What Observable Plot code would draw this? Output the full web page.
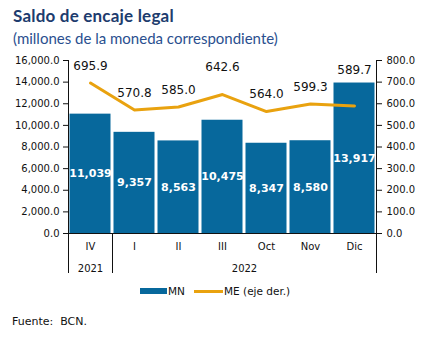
<!DOCTYPE html>
<html>
<head>
<meta charset="utf-8">
<script src="https://cdn.jsdelivr.net/npm/d3@7"></script>
<script src="https://cdn.jsdelivr.net/npm/@observablehq/plot@0.6"></script>
<style>
  body { margin: 0; background: #fff; font-family: "DejaVu Sans", sans-serif; }
  #wrap { position: relative; width: 427px; height: 350px; overflow: hidden; }
  #chart { position: absolute; left: 0; top: 0; }
  .title { position: absolute; left: 13px; top: 5px; font-family: Lato, sans-serif; font-weight: bold; font-size: 17px; color: #1d3c6e; letter-spacing: 0.2px; }
  .subtitle { position: absolute; left: 13px; top: 29px; font-family: Lato, sans-serif; font-size: 15px; color: #2a4f8f; }
  .legend { position: absolute; top: 284px; left: 0; width: 427px; height: 14px; font-size: 10.5px; color: #111; }
  .legend .sw { position: absolute; }
  .legend .lb { position: absolute; top: 0; line-height: 14px; }
  .src { position: absolute; left: 12px; top: 315px; font-size: 11px; color: #111; }
</style>
</head>
<body>
<div id="wrap">
  <div id="chart"></div>
  <div class="title">Saldo de encaje legal</div>
  <div class="subtitle">(millones de la moneda correspondiente)</div>
  <div class="legend" id="legend"></div>
  <div class="src">Fuente:&nbsp; BCN.</div>
</div>
<script>
const periods = ["IV", "I", "II", "III", "Oct", "Nov", "Dic"];
const periodYears = ["2021", "2022", "2022", "2022", "2022", "2022", "2022"];
const mn = [11039, 9357, 8563, 10475, 8347, 8580, 13917];
const me = [695.9, 570.8, 585.0, 642.6, 564.0, 599.3, 589.7];
const seriesNames = ["MN", "ME (eje der.)"];

const RATIO = 16000 / 800; // right axis -> left axis units
const BAR = "#07689c";
const LINE = "#e9a20f";

const rows = periods.map((p, i) => ({p, i, year: periodYears[i], mn: mn[i], me: me[i]}));

// year groups
const groups = [];
rows.forEach(r => {
  const g = groups.find(g => g.year === r.year);
  if (g) { g.end = r.i + 1; } else { groups.push({year: r.year, start: r.i, end: r.i + 1}); }
});
const boundaries = [0, ...groups.map(g => g.end)];

// label placement offsets (px) for ME values, as placed in the original
const labelDy = {III: -27, Dic: -36};
const dyOf = p => labelDy[p] ?? -17;
const dyValues = [...new Set(periods.map(dyOf))];

const chart = Plot.plot({
  width: 427,
  height: 350,
  marginTop: 60,
  marginBottom: 117,
  marginLeft: 68,
  marginRight: 51,
  style: {fontFamily: "DejaVu Sans, sans-serif", fontSize: "10px", background: "transparent", color: "#111"},
  x: {domain: [0, periods.length], axis: null},
  y: {domain: [0, 16000], axis: null},
  marks: [
    Plot.rectY(rows, {x1: "i", x2: d => d.i + 1, y: "mn", fill: BAR, insetLeft: 1.5, insetRight: 1.5}),
    Plot.text(rows, {x: d => d.i + 0.5, y: d => d.mn / 2, text: d => d3.format(",")(d.mn), fill: "white", fontWeight: "bold", fontSize: 11}),
    Plot.line(rows, {x: d => d.i + 0.5, y: d => d.me * RATIO, stroke: LINE, strokeWidth: 3}),
    ...dyValues.map(dy => Plot.text(rows.filter(r => dyOf(r.p) === dy), {x: d => d.i + 0.5, y: d => d.me * RATIO, text: d => d.me.toFixed(1), fontSize: 12, fill: "#111", dy})),
    Plot.ruleY([0], {stroke: "#111"}),
    Plot.ruleX([0, periods.length], {stroke: "#111", insetBottom: -40}),
    Plot.ruleX(boundaries.slice(1, -1), {y1: 0, y2: 0, stroke: "#111", insetBottom: -40}),
    Plot.text(rows, {x: d => d.i + 0.5, y: 0, text: "p", dy: 13, fontSize: 10, fill: "#111"}),
    Plot.text(groups, {x: d => (d.start + d.end) / 2, y: 0, text: "year", dy: 35, fontSize: 10, fill: "#111"}),
    Plot.axisY({anchor: "left", label: null, ticks: d3.range(0, 16001, 2000), tickFormat: d3.format(",.1f"), tickSize: 5, tickPadding: 4, fontSize: 10}),
    Plot.axisY({anchor: "right", label: null, ticks: d3.range(0, 16001, 2000), tickFormat: d => (d / RATIO).toFixed(1), tickSize: 5, tickPadding: 5, fontSize: 10})
  ]
});
document.getElementById("chart").appendChild(chart);

// legend
const legend = document.getElementById("legend");
legend.innerHTML = `
  <div class="sw" style="left:140px;top:4px;width:27px;height:6px;background:${BAR}"></div>
  <div class="lb" style="left:168px">${seriesNames[0]}</div>
  <div class="sw" style="left:194px;top:6px;width:29px;height:3px;background:${LINE}"></div>
  <div class="lb" style="left:224px">${seriesNames[1]}</div>`;
</script>
</body>
</html>
